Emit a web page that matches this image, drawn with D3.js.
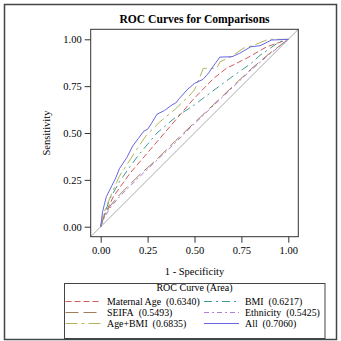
<!DOCTYPE html>
<html><head><meta charset="utf-8">
<script src="https://cdn.jsdelivr.net/npm/d3@7"></script>
<style>body{margin:0;background:#fff}svg{display:block}text{font-family:"Liberation Serif","Times New Roman",serif;fill:#000}</style>
</head><body>
<svg id="c" width="341" height="341"></svg>
<script>
const xTicks = [0, 0.25, 0.5, 0.75, 1];
const yTicks = [0, 0.25, 0.5, 0.75, 1];
const seriesNames = ["Maternal Age", "BMI", "SEIFA", "Ethnicity", "Age+BMI", "All"];
const seriesAUC = ["0.6340", "0.6217", "0.5493", "0.5425", "0.6835", "0.7060"];
const maternalAge = [[0,0],[0.02,0.06],[0.067,0.16],[0.156,0.285],[0.263,0.41],[0.37,0.535],[0.49,0.676],[0.6,0.79],[0.67,0.845],[0.78,0.9],[0.885,0.96],[1,1]];
const bmi = [[0,0],[0.02,0.07],[0.05,0.15],[0.1,0.24],[0.156,0.32],[0.2,0.38],[0.3,0.5],[0.4,0.585],[0.5,0.65],[0.565,0.7],[0.7,0.8],[0.8,0.87],[0.85,0.915],[0.95,0.985],[1,1]];
const seifa = [[0,0],[0.02,0.06],[0.05,0.11],[0.1,0.17],[0.2,0.27],[0.3,0.36],[0.4,0.46],[0.5,0.555],[0.6,0.65],[0.7,0.745],[0.8,0.84],[0.9,0.925],[1,1]];
const ethnicity = [[0,0],[0.02,0.05],[0.05,0.1],[0.1,0.16],[0.2,0.26],[0.3,0.355],[0.4,0.45],[0.5,0.55],[0.6,0.645],[0.7,0.74],[0.8,0.835],[0.9,0.92],[1,1]];
const ageBmi = [[0,0],[0.01,0.05],[0.023,0.09],[0.067,0.196],[0.1,0.27],[0.156,0.356],[0.19,0.41],[0.245,0.49],[0.316,0.56],[0.4,0.63],[0.476,0.703],[0.5,0.73],[0.547,0.845],[0.618,0.845],[0.636,0.88],[0.7,0.91],[0.76,0.952],[0.82,0.97],[0.893,1],[1,1]];
const all = [[0,0],[0.005,0.04],[0.01,0.08],[0.02,0.12],[0.03,0.16],[0.045,0.19],[0.06,0.22],[0.08,0.26],[0.1,0.31],[0.12,0.34],[0.14,0.37],[0.17,0.43],[0.2,0.47],[0.23,0.51],[0.25,0.52],[0.27,0.55],[0.3,0.6],[0.34,0.62],[0.38,0.65],[0.4,0.66],[0.42,0.685],[0.46,0.73],[0.5,0.765],[0.545,0.786],[0.575,0.82],[0.61,0.87],[0.635,0.905],[0.7,0.907],[0.74,0.925],[0.8,0.96],[0.85,0.966],[0.91,0.996],[1,1]];
const seriesData = [maternalAge, bmi, seifa, ethnicity, ageBmi, all];

const colors = ["#D05B5B", "#3E9C92", "#A07E58", "#B07FDA", "#B2B45A", "#6666E4"];
const dashes = ["6,3", "8,4,2,4", "13,5", "5,3,2,3", "12,4,3,4", null];

const svg = d3.select("#c");
const pL = 90.7, pR = 298.3, pT = 29.3, pB = 236.7, pad = 10;
const x = d3.scaleLinear().domain([0,1]).range([pL+pad, pR-pad]);
const y = d3.scaleLinear().domain([0,1]).range([pB-pad, pT+pad]);

svg.append("rect").attr("x",4.5).attr("y",4.5).attr("width",332).attr("height",335)
  .attr("fill","none").attr("stroke","#444").attr("stroke-width",1.5);

svg.append("text").attr("x",(pL+pR)/2).attr("y",23).attr("text-anchor","middle")
  .style("font-size","11.6px").style("font-weight","bold").text("ROC Curves for Comparisons");

svg.append("line").attr("x1",pL).attr("y1",pB).attr("x2",pR).attr("y2",pT)
  .attr("stroke","#aaa").attr("stroke-width",1);

const line = d3.line().x(d=>x(d[0])).y(d=>y(d[1]));
seriesData.forEach((s,i)=>{
  svg.append("path").datum(s).attr("d",line).attr("fill","none")
    .attr("stroke",colors[i]).attr("stroke-width",1)
    .attr("stroke-dasharray",dashes[i]);
});

svg.append("rect").attr("x",pL).attr("y",pT).attr("width",pR-pL).attr("height",pB-pT)
  .attr("fill","none").attr("stroke","#333").attr("stroke-width",1);

const xa = svg.append("g").attr("transform",`translate(0,${pB})`)
  .call(d3.axisBottom(x).tickValues(xTicks).tickFormat(d3.format(".2f")).tickSize(6).tickPadding(4));
const ya = svg.append("g").attr("transform",`translate(${pL},0)`)
  .call(d3.axisLeft(y).tickValues(yTicks).tickFormat(d3.format(".2f")).tickSize(6).tickPadding(3));
[xa,ya].forEach(a=>{
  a.select(".domain").remove();
  a.selectAll("line").attr("stroke","#333");
  a.selectAll("text").style("font-size","10.5px").style("font-family",'"Liberation Serif",serif');
});

svg.append("text").attr("x",(pL+pR)/2).attr("y",274.5).attr("text-anchor","middle")
  .style("font-size","10.5px").text("1 - Specificity");
svg.append("text").attr("transform",`translate(49.5,${(pT+pB)/2}) rotate(-90)`).attr("text-anchor","middle")
  .style("font-size","10.5px").text("Sensitivity");

svg.append("rect").attr("x",64.5).attr("y",283.5).attr("width",260.5).attr("height",55)
  .attr("fill","none").attr("stroke","#444").attr("stroke-width",1);
svg.append("text").attr("x",194.5).attr("y",290.5).attr("text-anchor","middle")
  .style("font-size","10px").text("ROC Curve (Area)");
const colX = [65.5, 204], textX = [107, 245], rowY = [301.5, 312.5, 323.5];
seriesNames.forEach((n,i)=>{
  const c = i%2, r = Math.floor(i/2);
  svg.append("line").attr("x1",colX[c]).attr("x2",colX[c]+35).attr("y1",rowY[r]).attr("y2",rowY[r])
    .attr("stroke",colors[i]).attr("stroke-width",1).attr("stroke-dasharray",dashes[i]);
  svg.append("text").attr("x",textX[c]).attr("y",rowY[r]+3.5)
    .style("font-size","9.9px").text(n+"\u00a0\u00a0("+seriesAUC[i]+")");
});
</script>
</body></html>
